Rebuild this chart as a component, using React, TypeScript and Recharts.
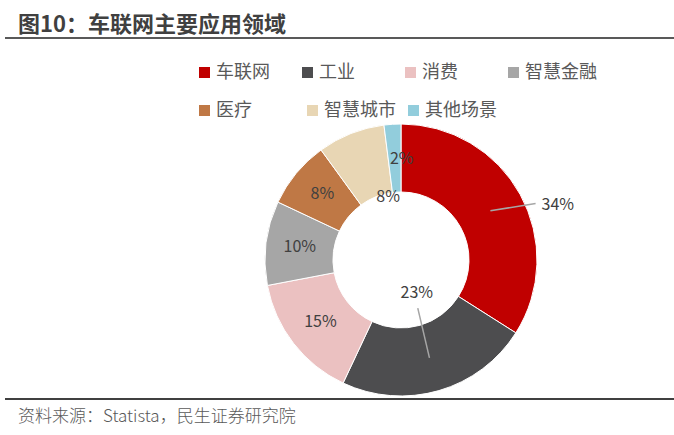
import React from 'react';
import { PieChart, Pie, Cell } from 'recharts';

const categories = ['车联网', '工业', '消费', '智慧金融', '医疗', '智慧城市', '其他场景'];
const shares = [34, 23, 15, 10, 8, 8, 2];
const colors = ['#C00000', '#4D4D4F', '#EBC1C1', '#A6A6A6', '#BF7845', '#E8D6B4', '#92CDDC'];

const chartData = categories.map((name, i) => ({ name, value: shares[i] }));

const FONT = '"Noto Sans CJK SC", "Noto Sans", sans-serif';
const RAD = Math.PI / 180;

// legend slots (Excel-ish layout, two rows)
const legendSlots = [
    [199, 72], [302, 72], [405, 72], [508, 72],
    [199, 110], [307, 110], [408, 110],
];

const renderLegend = () => (
    <g>
        {categories.map((name, i) => {
            const [x, y] = legendSlots[i];
            return (
                <g key={name}>
                    <rect x={x} y={y - 5} width={11} height={11} fill={colors[i]} />
                    <text x={x + 17} y={y + 1} dominantBaseline="middle" fontSize={18} fill="#595959" fontFamily={FONT}>
                        {name}
                    </text>
                </g>
            );
        })}
    </g>
);

const renderLabel = (props: any) => {
    const { cx, cy, midAngle, index, value } = props;
    const pt = (r: number, a: number) => [cx + r * Math.cos(-a * RAD), cy + r * Math.sin(-a * RAD)];
    const txt = `${value}%`;
    const common = { fontSize: 16, fill: '#404040', fontFamily: FONT, dominantBaseline: 'middle' as const };

    if (index === 0) {
        const [x1, y1] = pt(102, midAngle);
        const [x2, y2] = pt(146, midAngle - 6);
        return (
            <g>
                <line x1={x1} y1={y1} x2={x2} y2={y2} stroke="#A6A6A6" strokeWidth={1.5} />
                <text x={x2 + 6} y={y2 + 2} textAnchor="start" {...common}>{txt}</text>
            </g>
        );
    }
    if (index === 1) {
        const [x1, y1] = pt(102, midAngle);
        const [x2, y2] = pt(51, midAngle + 3);
        const [tx, ty] = pt(37, midAngle + 9);
        return (
            <g>
                <line x1={x1} y1={y1} x2={x2} y2={y2} stroke="#A6A6A6" strokeWidth={1.5} />
                <text x={tx} y={ty} textAnchor="middle" {...common}>{txt}</text>
            </g>
        );
    }
    let r = 102;
    let a = midAngle;
    if (index === 5) { r = 64; a = midAngle - 10; }
    if (index === 6) { r = 100; a = midAngle - 4; }
    const [x, y] = pt(r, a);
    return <text x={x} y={y} textAnchor="middle" {...common}>{txt}</text>;
};

export default function App() {
    return (
        <div style={{ position: 'absolute', left: 0, top: 0, width: 674, height: 435, background: '#fff', fontFamily: FONT }}>
            <div style={{ position: 'absolute', left: 18, top: 7, fontSize: 22, fontWeight: 700, color: '#404040', lineHeight: '30px', whiteSpace: 'nowrap' }}>
                图10：车联网主要应用领域
            </div>
            <div style={{ position: 'absolute', left: 5, right: 0, top: 37, height: 2, background: '#595959' }} />
            <PieChart width={674} height={435} margin={{ top: 0, right: 0, bottom: 0, left: 0 }} style={{ position: 'absolute', left: 0, top: 0 }}>
                <Pie
                    data={chartData}
                    dataKey="value"
                    nameKey="name"
                    cx={401}
                    cy={260}
                    innerRadius={68}
                    outerRadius={136}
                    startAngle={90}
                    endAngle={-270}
                    stroke="#fff"
                    strokeWidth={1}
                    label={renderLabel}
                    labelLine={false}
                    isAnimationActive={false}
                >
                    {chartData.map((d, i) => (
                        <Cell key={d.name} fill={colors[i]} />
                    ))}
                </Pie>
            </PieChart>
            <svg width={674} height={140} style={{ position: 'absolute', left: 0, top: 0, pointerEvents: 'none' }}>
                {renderLegend()}
            </svg>
            <div style={{ position: 'absolute', left: 5, right: 0, top: 398, height: 2, background: '#404040' }} />
            <div style={{ position: 'absolute', left: 18, top: 403, fontSize: 17, color: '#595959', lineHeight: '24px', fontWeight: 300, whiteSpace: 'nowrap' }}>
                资料来源：Statista，民生证券研究院
            </div>
        </div>
    );
}
